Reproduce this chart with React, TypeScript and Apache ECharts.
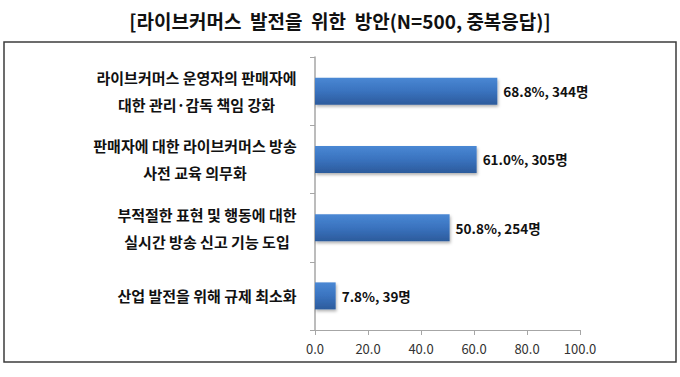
import React, { useEffect, useRef } from "react";
import * as echarts from "echarts";

const titleText = "[라이브커머스  발전을  위한  방안(N=500, 중복응답)]";
const categories = [
  "라이브커머스 운영자의 판매자에\n대한 관리·감독 책임 강화",
  "판매자에 대한 라이브커머스 방송\n사전 교육 의무화",
  "부적절한 표현 및 행동에 대한\n실시간 방송 신고 기능 도입",
  "산업 발전을 위해 규제 최소화",
];
const percents = [68.8, 61.0, 50.8, 7.8];
const counts = [344, 305, 254, 39];
const xTicks = [0, 20, 40, 60, 80, 100];

const FONT = '"Noto Sans CJK KR", "Noto Sans", sans-serif';
const LABEL_SIZE = 15;

function measure(text: string, size: number): number {
  const c = document.createElement("canvas").getContext("2d");
  if (!c) return text.length * size;
  c.font = `bold ${size}px ${FONT}`;
  return c.measureText(text).width;
}

export default function App() {
  const ref = useRef<HTMLDivElement>(null);
  useEffect(() => {
    if (!ref.current) return;
    const chart = echarts.init(ref.current, null, { renderer: "svg" });
    const rich: Record<string, any> = {};
    categories.forEach((c, i) => {
      const w = Math.max(...c.split("\n").map((l) => measure(l, LABEL_SIZE)));
      rich["c" + i] = {
        width: Math.ceil(w) + 2,
        align: "center",
        fontSize: LABEL_SIZE,
        fontWeight: "bold",
        fontFamily: FONT,
        color: "#111",
        lineHeight: 27,
      };
    });
    chart.setOption({
      animation: false,
      title: {
        text: titleText,
        left: "center",
        top: 6,
        textStyle: { fontSize: 19, fontWeight: "bold", fontFamily: FONT, color: "#111" },
      },
      graphic: [
        {
          type: "rect",
          shape: { x: 4, y: 42, width: 672, height: 320 },
          style: { fill: "none", stroke: "#3c3c3c", lineWidth: 1.5 },
          silent: true,
        },
      ],
      grid: { left: 315, right: 100, top: 57, bottom: 47, containLabel: false },
      xAxis: {
        type: "value",
        min: xTicks[0],
        max: xTicks[xTicks.length - 1],
        interval: xTicks[1] - xTicks[0],
        splitLine: { show: false },
        axisLine: { show: true, lineStyle: { color: "#a6a6a6", width: 1 } },
        axisTick: { show: true, length: 5, lineStyle: { color: "#a6a6a6" } },
        axisLabel: {
          formatter: (v: number) => v.toFixed(1),
          fontSize: 13,
          fontFamily: FONT,
          color: "#333",
          margin: 12,
        },
      },
      yAxis: {
        type: "category",
        inverse: true,
        data: categories,
        axisLine: { show: true, lineStyle: { color: "#a6a6a6", width: 1.5 } },
        axisTick: { show: true, length: 5, lineStyle: { color: "#a6a6a6" } },
        axisLabel: {
          margin: 17,
          formatter: (v: string, i: number) =>
            v
              .split("\n")
              .map((l) => `{c${i}|${l}}`)
              .join("\n"),
          rich,
        },
      },
      series: [
        {
          type: "bar",
          data: percents,
          barWidth: 27,
          itemStyle: {
            color: new echarts.graphic.LinearGradient(0, 0, 0, 1, [
              { offset: 0, color: "#4a88d4" },
              { offset: 0.5, color: "#3a73bf" },
              { offset: 1, color: "#2c5b9c" },
            ]),
            shadowColor: "rgba(0,0,0,0.3)",
            shadowBlur: 3,
            shadowOffsetY: 2,
            shadowOffsetX: 1,
          },
          label: {
            show: true,
            position: "right",
            distance: 6,
            formatter: (p: any) => `${percents[p.dataIndex].toFixed(1)}%, ${counts[p.dataIndex]}명`,
            fontSize: 13.5,
            fontWeight: "bold",
            fontFamily: FONT,
            color: "#111",
          },
        },
      ],
    });
    return () => chart.dispose();
  }, []);
  return <div ref={ref} style={{ width: 680, height: 377, position: "absolute", left: 0, top: 0 }} />;
}
